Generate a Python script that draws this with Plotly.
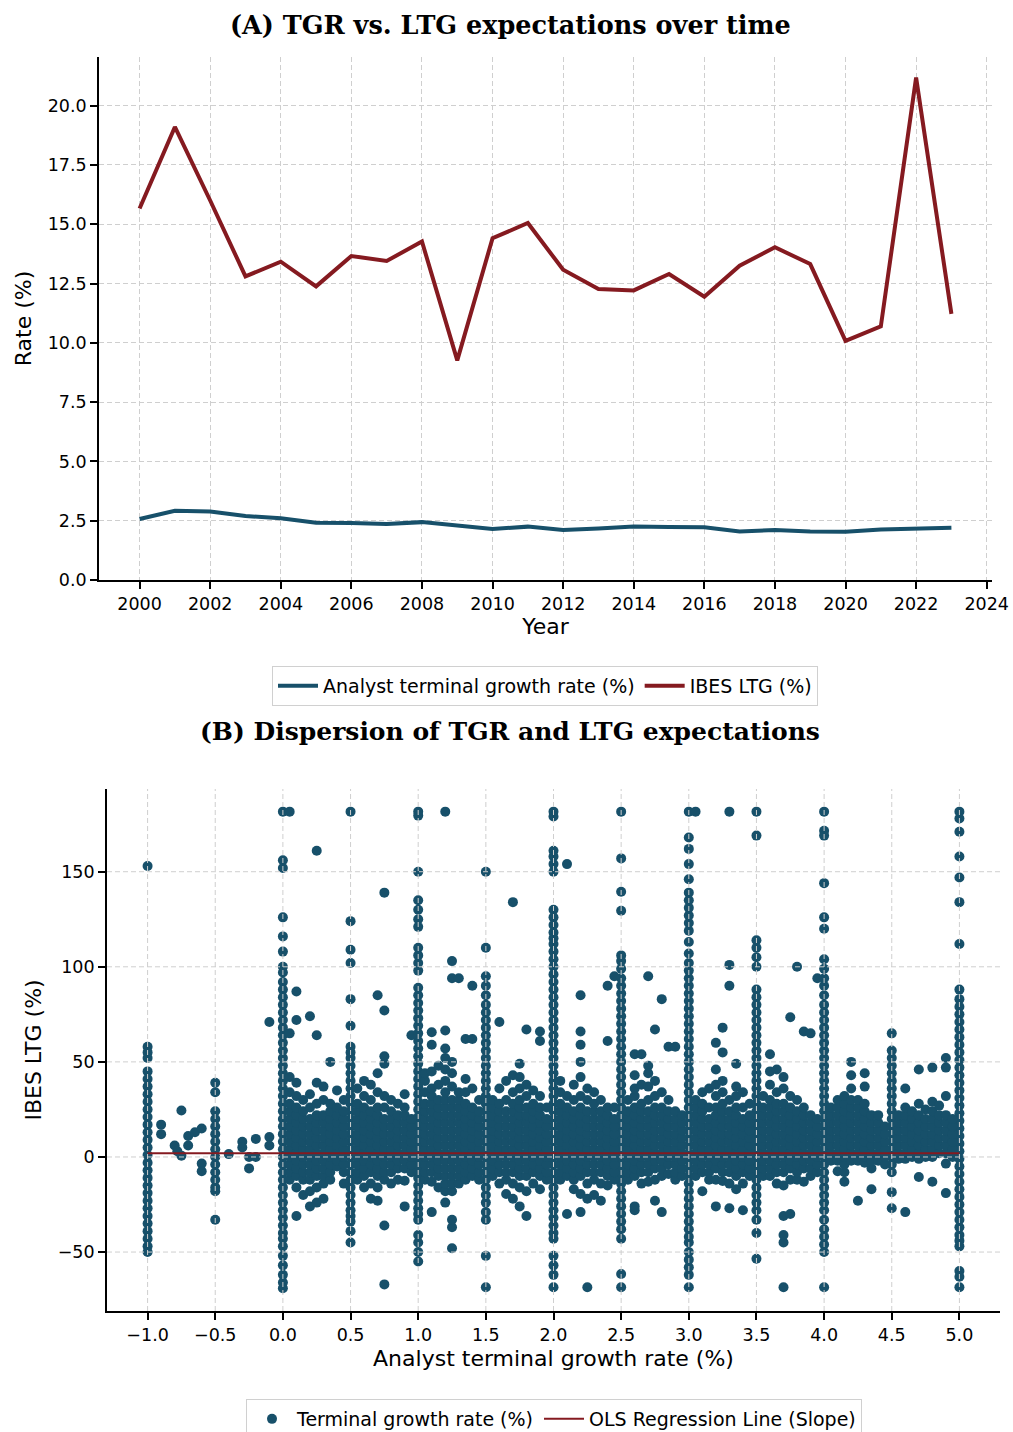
import plotly.graph_objects as go

# ---------------- Panel A data ----------------
years = list(range(2000, 2024))
tgr_pct = [2.57, 2.92, 2.89, 2.70, 2.60, 2.41, 2.40, 2.36, 2.44, 2.29, 2.15, 2.25,
           2.11, 2.17, 2.26, 2.23, 2.22, 2.05, 2.11, 2.05, 2.03, 2.13, 2.17, 2.20]
ltg_pct = [15.66, 19.10, 16.00, 12.80, 13.42, 12.38, 13.66, 13.45, 14.27, 9.26, 14.41, 15.05,
           13.08, 12.27, 12.21, 12.90, 11.94, 13.25, 14.03, 13.32, 10.08, 10.69, 21.18, 11.22]
year_ticks = list(range(2000, 2025, 2))
rate_ticks = [0, 2.5, 5, 7.5, 10, 12.5, 15, 17.5, 20]

# ---------------- Panel B data ----------------
# main vertical columns of analyst TGR values (x) with their IBES LTG values (y)
ltg_at_m1_0 = [153, 58, 55, 52, 45, 41, 37, 33, 29, 25, 21, 17, 13, 9, 5, 1, -3, -7, -11, -15,
               -19, -23, -27, -31, -35, -39, -43, -47, -50]
ltg_at_m0_5 = [39, 34, 24, 20, 16, 12, 8, 4, 0, -4, -8, -12, -16, -18, -33]
ltg_at_0_0 = [181.6, 156, 152, 126, 116, 108, 100, 97, 92, 88, 84, 80, 76, 72, 68, 64, 60, 56, 52,
              48, 44, 40, 36, 32, 28, 24, 20, 16, 12, 8, 4, 0, -4, -8, -12, -16, -20, -24, -28,
              -32, -36, -40, -43, -47, -52, -57, -62, -66, -69]
ltg_at_0_5 = [181.6, 124, 109, 102, 83, 69, 58, 55, 52, 48, 44, 40, 36, 32, 28, 24, 20, 16, 12,
              8, 4, 0, -4, -8, -12, -16, -20, -24, -28, -31, -34, -39, -45]
ltg_at_1_0 = [181.6, 179.5, 150, 135, 130, 125, 121, 110, 106, 102, 98, 89, 85, 81, 77, 73, 69,
              65, 61, 57, 53, 49, 45, 41, 37, 33, 29, 25, 21, 17, 13, 9, 5, 1, -3, -7, -11, -15,
              -19, -23, -27, -30, -33, -41, -45, -50, -55]
ltg_at_1_5 = [150, 110, 95, 90, 85, 80, 76, 72, 68, 64, 60, 56, 52, 48, 44, 40, 36, 32, 28, 24,
              20, 16, 12, 8, 4, 0, -4, -8, -12, -16, -20, -24, -29, -33, -52, -68.5]
ltg_at_2_0 = [181.6, 179, 161, 158, 154, 150, 130, 126, 122, 118, 115, 112, 108, 104, 100, 96,
              92, 88, 84, 80, 76, 72, 68, 64, 60, 56, 52, 48, 44, 40, 36, 32, 28, 24, 20, 16, 12,
              8, 4, 0, -4, -8, -12, -16, -20, -24, -28, -32, -36, -40, -43, -52, -57, -62, -68.5]
ltg_at_2_5 = [181.6, 157, 139.5, 129.5, 106, 103, 99, 94, 90, 86, 82, 78, 74, 70, 66, 62, 58,
              54, 50, 46, 42, 38, 34, 30, 26, 22, 18, 14, 10, 6, 2, -2, -6, -10, -14, -18, -22,
              -26, -30, -34, -38, -43, -61.5, -68.5]
ltg_at_3_0 = [181.6, 168, 162, 154, 146, 139, 135, 131, 127, 123, 119, 113, 107, 102, 98, 94,
              90, 86, 82, 78, 74, 70, 66, 62, 58, 54, 50, 46, 42, 38, 34, 30, 26, 22, 18, 14, 10,
              6, 2, -2, -6, -10, -14, -18, -22, -26, -30, -34, -38, -42, -45, -50, -54, -58,
              -62, -68.5]
ltg_at_3_5 = [181.6, 169, 114, 110, 105, 100, 88, 84, 80, 76, 72, 68, 64, 60, 56, 52, 48, 44,
              40, 36, 32, 28, 24, 20, 16, 12, 8, 4, 0, -4, -8, -12, -16, -20, -24, -28, -33,
              -40, -53.5]
ltg_at_4_0 = [181.6, 171.5, 169, 144, 126, 120, 104, 99, 94, 90, 85, 80, 76, 72, 68, 64, 60, 56,
              52, 48, 44, 40, 36, 32, 28, 24, 20, 16, 12, 8, 4, 0, -4, -8, -12, -16, -20, -24,
              -28, -33, -38, -42, -46, -50, -68.5]
ltg_at_4_5 = [65, 56, 52, 48, 44, 40, 36, 32, 28, 24, 20, 16, 12, 8, 4, 0, -4, -8, -18.5, -27]
ltg_at_5_0 = [181.6, 178, 171, 158, 147, 134, 112, 88, 83, 79, 75, 71, 67, 63, 59, 55, 51, 47,
              43, 39, 35, 31, 27, 23, 19, 15, 11, 7, 3, -1, -5, -9, -13, -17, -21, -25, -29, -33,
              -37, -41, -44, -47, -60, -63, -68.5]

column_tgr = [-1.0, -0.5, 0.0, 0.5, 1.0, 1.5, 2.0, 2.5, 3.0, 3.5, 4.0, 4.5, 5.0]
column_ltg = [ltg_at_m1_0, ltg_at_m0_5, ltg_at_0_0, ltg_at_0_5, ltg_at_1_0, ltg_at_1_5,
              ltg_at_2_0, ltg_at_2_5, ltg_at_3_0, ltg_at_3_5, ltg_at_4_0, ltg_at_4_5, ltg_at_5_0]

# sparse observations with negative analyst TGR
neg_tgr = [-0.9, -0.9, -0.8, -0.78, -0.75, -0.75, -0.7, -0.7, -0.65, -0.6, -0.6, -0.6,
           -0.4, -0.3, -0.3, -0.25, -0.25, -0.2, -0.2, -0.1, -0.1, -0.1]
neg_ltg = [17, 12, 6, 3, 24.4, 0.7, 11, 6, 13, 15, -3.5, -7.5,
           1.5, 8, 5, 0, -6, 9.5, 0, 10.5, 6, 71]

# dense cloud between the half-point columns: (TGR, [LTG values])
cloud_0_0 = [(0.05, [-12, -8, -4, 0, 4, 8, 12, 16, 20, 24, 28, 34, 42, 65, 181.6]),
             (0.10, [-31, -16, -10, -6, -2, 2, 6, 10, 14, 18, 22, 26, 32, 39, 72, 87]),
             (0.15, [-20, -12, -8, -4, 0, 4, 8, 12, 16, 20, 24, 30]),
             (0.20, [-26, -18, -12, -8, -4, 0, 4, 8, 12, 16, 20, 26, 33, 74]),
             (0.25, [-24, -16, -10, -6, -2, 2, 6, 10, 14, 18, 22, 28, 39, 64, 161]),
             (0.30, [-22, -14, -10, -6, -2, 2, 6, 10, 14, 18, 22, 30, 37]),
             (0.35, [-12, -8, -4, 0, 4, 8, 12, 16, 20, 24, 28, 50]),
             (0.40, [-5, -2, 2, 6, 10, 14, 18, 22, 26, 35]),
             (0.45, [-14, -8, -4, 0, 4, 8, 12, 16, 20, 24, 30])]
cloud_0_5 = [(0.55, [-12, -8, -4, 0, 4, 8, 12, 16, 20, 24, 28, 36]),
             (0.60, [-16, -10, -6, -2, 2, 6, 10, 14, 18, 22, 26, 32, 40]),
             (0.65, [-22, -14, -8, -4, 0, 4, 8, 12, 16, 20, 24, 30, 38]),
             (0.70, [-23, -16, -10, -6, -2, 2, 6, 10, 14, 18, 22, 26, 34, 44, 85]),
             (0.75, [-67, -36, -12, -8, -4, 0, 4, 8, 12, 16, 20, 26, 32, 49, 53, 77, 139]),
             (0.80, [-14, -8, -4, 0, 4, 8, 12, 16, 20, 24, 30]),
             (0.85, [-12, -6, -2, 2, 6, 10, 14, 18, 22, 28]),
             (0.90, [-26, -12.5, -6, -2, 2, 6, 10, 14, 18, 22, 26, 33]),
             (0.95, [-8, -4, 0, 4, 8, 12, 16, 20, 64])]
cloud_1_0 = [(1.05, [-12, -8, -4, 0, 4, 8, 12, 16, 20, 24, 28, 34, 40, 44]),
             (1.10, [-29, -13, -8, -4, 0, 4, 8, 12, 16, 20, 24, 28, 32, 36, 45, 59, 65.6]),
             (1.15, [-16, -10, -6, -2, 2, 6, 10, 14, 18, 22, 26, 30, 38, 48]),
             (1.20, [-24, -18, -14, -10, -6, -2, 2, 6, 10, 14, 18, 22, 26, 30, 34, 40, 46, 52, 57,
                     66.5, 181.6]),
             (1.25, [-48, -37, -33, -18, -14, -10, -6, -2, 2, 6, 10, 14, 18, 22, 26, 30, 37, 44, 50,
                     94, 103]),
             (1.30, [-14, -10, -6, -2, 2, 6, 10, 14, 18, 22, 26, 30, 34, 94]),
             (1.35, [-12, -8, -4, 0, 4, 8, 12, 16, 20, 24, 28, 34, 41, 62]),
             (1.40, [-10, -6, -2, 2, 6, 10, 14, 18, 22, 26, 36, 62, 90]),
             (1.45, [-12, -8, -4, 0, 4, 8, 12, 16, 20, 24, 30])]
cloud_1_5 = [(1.55, [-10, -6, -2, 2, 6, 10, 14, 18, 22, 26, 30]),
             (1.60, [-14, -8, -4, 0, 4, 8, 12, 16, 20, 24, 28, 36, 71]),
             (1.65, [-19.5, -12, -8, -4, 0, 4, 8, 12, 16, 20, 24, 30, 40]),
             (1.70, [-22, -14, -8, -4, 0, 4, 8, 12, 16, 20, 24, 28, 34, 43, 134]),
             (1.75, [-26, -16, -10, -6, -2, 2, 6, 10, 14, 18, 22, 26, 30, 36, 42, 49]),
             (1.80, [-31, -18, -10, -6, -2, 2, 6, 10, 14, 18, 22, 26, 32, 38, 67]),
             (1.85, [-14, -8, -4, 0, 4, 8, 12, 16, 20, 24, 28, 35]),
             (1.90, [-17, -10, -6, -2, 2, 6, 10, 14, 18, 22, 26, 32, 61, 66]),
             (1.95, [-12, -8, -4, 0, 4, 8, 12, 16, 20, 26])]
cloud_2_0 = [(2.05, [-12, -8, -4, 0, 4, 8, 12, 16, 20, 24, 28, 34, 40]),
             (2.10, [-30, -10, -6, -2, 2, 6, 10, 14, 18, 22, 26, 32, 154]),
             (2.15, [-17, -12, -8, -4, 0, 4, 8, 12, 16, 20, 24, 30, 38]),
             (2.20, [-29, -19.5, -10, -6, -2, 2, 6, 10, 14, 18, 22, 26, 32, 42, 50, 59, 66, 85]),
             (2.25, [-68.5, -22, -14, -8, -4, 0, 4, 8, 12, 16, 20, 24, 30, 36]),
             (2.30, [-20, -12, -8, -4, 0, 4, 8, 12, 16, 20, 24, 28, 34]),
             (2.35, [-23, -14, -8, -4, 0, 4, 8, 12, 16, 20, 24, 30]),
             (2.40, [-15, -10, -6, -2, 2, 6, 10, 14, 18, 22, 26, 61, 90]),
             (2.45, [-12, -8, -4, 0, 4, 8, 12, 16, 20, 26, 95])]
cloud_2_5 = [(2.55, [-12, -8, -4, 0, 4, 8, 12, 16, 20, 24, 30]),
             (2.60, [-28, -26, -10, -6, -2, 2, 6, 10, 14, 18, 22, 26, 32, 36, 43, 54]),
             (2.65, [-14, -8, -4, 0, 4, 8, 12, 16, 20, 24, 28, 38, 54]),
             (2.70, [-13, -8, -4, 0, 4, 8, 12, 16, 20, 24, 30, 37, 44, 48, 95]),
             (2.75, [-23, -12, -6, -2, 2, 6, 10, 14, 18, 22, 26, 32, 40, 67]),
             (2.80, [-29, -10, -6, -2, 2, 6, 10, 14, 18, 22, 26, 34, 83]),
             (2.85, [-9, -4, 0, 4, 8, 12, 16, 20, 24, 30, 58]),
             (2.90, [-12, -8, -4, 0, 4, 8, 12, 16, 20, 24, 58]),
             (2.95, [-10, -6, -2, 2, 6, 10, 14, 18, 22])]
cloud_3_0 = [(3.05, [-10, -6, -2, 2, 6, 10, 14, 18, 22, 26, 30, 181.6]),
             (3.10, [-18, -8, -4, 0, 4, 8, 12, 16, 20, 24, 28, 34]),
             (3.15, [-12, -8, -4, 0, 4, 8, 12, 16, 20, 26, 36]),
             (3.20, [-26, -12, -6, -2, 2, 6, 10, 14, 18, 22, 26, 32, 38, 46, 60]),
             (3.25, [-12.6, -8, -4, 0, 4, 8, 12, 16, 20, 24, 28, 34, 40, 55, 68]),
             (3.30, [-27, -14, -8, -4, 0, 4, 8, 12, 16, 20, 24, 30, 90, 101, 181.6]),
             (3.35, [-17, -10, -6, -2, 2, 6, 10, 14, 18, 22, 26, 32, 37, 49]),
             (3.40, [-28, -14, -8, -4, 0, 4, 8, 12, 16, 20, 26, 34]),
             (3.45, [-10, -6, -2, 2, 6, 10, 14, 18, 22, 28])]
cloud_3_5 = [(3.55, [-10, -6, -2, 2, 6, 10, 14, 18, 22, 26, 32]),
             (3.60, [-10, -6, -2, 2, 6, 10, 14, 18, 22, 26, 30, 38, 45, 54]),
             (3.65, [-14, -8, -4, 0, 4, 8, 12, 16, 20, 24, 28, 34, 46]),
             (3.70, [-68.5, -45, -41, -31, -15, -8, -4, 0, 4, 8, 12, 16, 20, 24, 28, 36, 42]),
             (3.75, [-30, -12, -6, -2, 2, 6, 10, 14, 18, 22, 26, 32, 73.5]),
             (3.80, [-12, -8, -4, 0, 4, 8, 12, 16, 20, 24, 30, 100]),
             (3.85, [-13, -6, -2, 2, 6, 10, 14, 18, 22, 26, 66]),
             (3.90, [-10, -6, -2, 2, 6, 10, 14, 18, 22, 65]),
             (3.95, [-8, -4, 0, 4, 8, 12, 16, 20, 94])]
cloud_4_0 = [(4.05, [-2, 2, 6, 10, 14, 18, 22, 26]),
             (4.10, [-7.5, -2, 2, 6, 10, 14, 18, 22, 26, 30]),
             (4.15, [-13, -8, -4, 0, 4, 8, 12, 16, 20, 24, 28, 32]),
             (4.20, [-2, 2, 6, 10, 14, 18, 22, 26, 30, 36, 43, 50]),
             (4.25, [-23, -2, 2, 6, 10, 14, 18, 22, 26, 30]),
             (4.30, [-3, 0, 4, 8, 12, 16, 20, 24, 28, 37, 44]),
             (4.35, [-17, -6, -2, 2, 6, 10, 14, 18, 22]),
             (4.40, [-2, 2, 6, 10, 14, 18, 22]),
             (4.45, [-4, 0, 4, 8, 12, 16])]
cloud_4_5 = [(4.55, [-1, 2, 6, 10, 14, 18, 22]),
             (4.60, [-29, -1, 2, 6, 10, 14, 18, 22, 26, 36]),
             (4.65, [0, 4, 8, 12, 16, 20, 24]),
             (4.70, [-10.5, -1, 2, 6, 10, 14, 18, 22, 28, 46]),
             (4.75, [0, 4, 8, 12, 16, 20, 25]),
             (4.80, [-13, 0, 4, 8, 12, 16, 20, 24, 29, 47]),
             (4.85, [2, 6, 10, 14, 18, 22, 27]),
             (4.90, [-19, -3.5, 2, 6, 10, 14, 18, 22, 32, 47, 52]),
             (4.95, [0, 4, 8, 12, 16, 20])]

# OLS regression line (nearly flat)
ols_tgr = [-1.0, 5.0]
ols_ltg = [2.0, 2.0]

tgr_ticks = [-1.0, -0.5, 0.0, 0.5, 1.0, 1.5, 2.0, 2.5, 3.0, 3.5, 4.0, 4.5, 5.0]
ltg_ticks = [-50, 0, 50, 100, 150]

# ---------------- assemble scatter arrays ----------------
sx, sy = [], []
for xv, ys in zip(column_tgr, column_ltg):
    sx += [xv] * len(ys)
    sy += ys
sx += neg_tgr
sy += neg_ltg
for cloud in [cloud_0_0, cloud_0_5, cloud_1_0, cloud_1_5, cloud_2_0,
              cloud_2_5, cloud_3_0, cloud_3_5, cloud_4_0, cloud_4_5]:
    for xv, ys in cloud:
        sx += [xv] * len(ys)
        sy += ys

TEAL = "#17506a"
RED = "#851a20"
GRID = "#cfcfcf"
FONT = "DejaVu Sans"
W, H = 1013, 1432
TICK = 17.5
LAB = 22

fig = go.Figure()
fig.add_trace(go.Scatter(x=years, y=tgr_pct, mode="lines", name="Analyst terminal growth rate (%)",
                         line=dict(color=TEAL, width=4), xaxis="x", yaxis="y", legend="legend"))
fig.add_trace(go.Scatter(x=years, y=ltg_pct, mode="lines", name="IBES LTG (%)",
                         line=dict(color=RED, width=4), xaxis="x", yaxis="y", legend="legend"))
fig.add_trace(go.Scatter(x=sx, y=sy, mode="markers", name="Terminal growth rate (%)",
                         marker=dict(color=TEAL, size=10, line=dict(width=0)),
                         xaxis="x2", yaxis="y2", legend="legend2"))
fig.add_trace(go.Scatter(x=ols_tgr, y=ols_ltg, mode="lines", name="OLS Regression Line (Slope)",
                         line=dict(color=RED, width=2), xaxis="x2", yaxis="y2", legend="legend2"))

# grid lines for panel B drawn above the markers (as in the reference)
for t in tgr_ticks:
    fig.add_shape(type="line", xref="x2", yref="y2 domain", x0=t, x1=t, y0=0, y1=1,
                  line=dict(color=GRID, width=1, dash="5px,3px"), layer="above")
for t in ltg_ticks:
    fig.add_shape(type="line", xref="x2 domain", yref="y2", x0=0, x1=1, y0=t, y1=t,
                  line=dict(color=GRID, width=1, dash="5px,3px"), layer="above")

axis_common = dict(showline=True, linecolor="black", linewidth=1.8, ticks="outside",
                   ticklen=7, tickwidth=1.6, tickcolor="black", zeroline=False,
                   tickfont=dict(family=FONT, size=TICK, color="black"), mirror=False,
                   automargin=False)

fig.update_layout(
    width=W, height=H, margin=dict(l=0, r=0, t=0, b=0, autoexpand=False),
    paper_bgcolor="white", plot_bgcolor="white",
    font=dict(family=FONT, color="black"),
    xaxis=dict(domain=[99 / W, 992 / W], anchor="y", range=[1998.85, 2024.15],
               tickvals=year_ticks, showgrid=True, gridcolor=GRID, griddash="5px,3px", gridwidth=1,
               title=dict(text="Year", font=dict(family=FONT, size=LAB), standoff=4),
               **axis_common),
    yaxis=dict(domain=[1 - 580 / H, 1 - 57 / H], anchor="x", range=[0, 22.05],
               tickvals=rate_ticks, tickformat=".1f", showgrid=True, gridcolor=GRID,
               griddash="5px,3px", gridwidth=1,
               title=dict(text="Rate (%)", font=dict(family=FONT, size=LAB), standoff=10),
               **axis_common),
    xaxis2=dict(domain=[107 / W, 1000 / W], anchor="y2", range=[-1.3, 5.3],
                tickvals=tgr_ticks, tickformat=".1f", showgrid=False,
                title=dict(text="Analyst terminal growth rate (%)", font=dict(family=FONT, size=LAB),
                           standoff=7),
                **axis_common),
    yaxis2=dict(domain=[1 - 1311 / H, 1 - 789 / H], anchor="x2", range=[-81, 193.5],
                tickvals=ltg_ticks, showgrid=False,
                title=dict(text="IBES LTG (%)", font=dict(family=FONT, size=LAB), standoff=10),
                **axis_common),
    legend=dict(orientation="h", x=545 / W, xanchor="center", y=1 - 666 / H, yanchor="top",
                bordercolor="#d0d0d0", borderwidth=1, font=dict(family=FONT, size=19),
                bgcolor="white", itemwidth=40),
    legend2=dict(orientation="h", x=554 / W, xanchor="center", y=1 - 1399 / H, yanchor="top",
                 bordercolor="#d0d0d0", borderwidth=1, font=dict(family=FONT, size=19),
                 bgcolor="white", itemwidth=40),
    annotations=[
        dict(text="<b>(A) TGR vs. LTG expectations over time</b>", xref="paper", yref="paper",
             x=510 / W, y=1 - 25 / H, xanchor="center", yanchor="middle", showarrow=False,
             font=dict(family="DejaVu Serif", size=25.5, color="black")),
        dict(text="<b>(B) Dispersion of TGR and LTG expectations</b>", xref="paper", yref="paper",
             x=510 / W, y=1 - 731 / H, xanchor="center", yanchor="middle", showarrow=False,
             font=dict(family="DejaVu Serif", size=25, color="black")),
    ],
    showlegend=True,
)

fig.write_html("out.html", config={"displayModeBar": False},
               post_script="document.body.style.margin='0';document.body.style.padding='0';")
